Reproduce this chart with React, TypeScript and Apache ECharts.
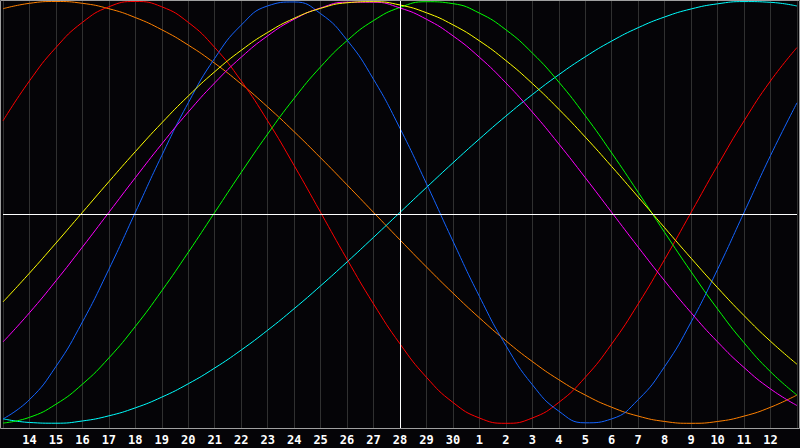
import React, { useEffect, useRef } from "react";
import * as echarts from "echarts";

const days = ["13","14","15","16","17","18","19","20","21","22","23","24","25","26","27","28","29","30","1","2","3","4","5","6","7","8","9","10","11","12","13"];

// 23-day cycle (blue)
const physical = [-0.9791,-0.8879,-0.7308,-0.5196,-0.2698,0,0.2698,0.5196,0.7308,0.8879,0.9791,0.9977,0.9423,0.8170,0.6311,0.3984,0.1362,-0.1362,-0.3984,-0.6311,-0.8170,-0.9423,-0.9977,-0.9791,-0.8879,-0.7308,-0.5196,-0.2698,0,0.2698,0.5196];
// 28-day cycle (red)
const emotional = [0.4339,0.6235,0.7818,0.9010,0.9749,1,0.9749,0.9010,0.7818,0.6235,0.4339,0.2225,0,-0.2225,-0.4339,-0.6235,-0.7818,-0.9010,-0.9749,-1,-0.9749,-0.9010,-0.7818,-0.6235,-0.4339,-0.2225,0,0.2225,0.4339,0.6235,0.7818];
// 33-day cycle (green)
const intellectual = [-0.9989,-0.9718,-0.9096,-0.8146,-0.6901,-0.5406,-0.3717,-0.1893,0,0.1893,0.3717,0.5406,0.6901,0.8146,0.9096,0.9718,0.9989,0.9898,0.9450,0.8660,0.7557,0.6182,0.4582,0.2817,0.0951,-0.0951,-0.2817,-0.4582,-0.6182,-0.7557,-0.8660];
// 38-day cycle (magenta)
const intuitive = [-0.6142,-0.4759,-0.3247,-0.1646,0,0.1646,0.3247,0.4759,0.6142,0.7357,0.8372,0.9158,0.9694,0.9966,0.9966,0.9694,0.9158,0.8372,0.7357,0.6142,0.4759,0.3247,0.1646,0,-0.1646,-0.3247,-0.4759,-0.6142,-0.7357,-0.8372,-0.9158];
// 43-day cycle (yellow)
const aesthetic = [-0.4245,-0.2881,-0.1456,0,0.1456,0.2881,0.4245,0.5517,0.6671,0.7685,0.8534,0.9203,0.9675,0.9940,0.9993,0.9834,0.9465,0.8894,0.8135,0.7200,0.6112,0.4894,0.3572,0.2174,0.0730,-0.0730,-0.2174,-0.3572,-0.4894,-0.6112,-0.7200];
// 48-day cycle (orange)
const awareness = [0.9659,0.9914,1,0.9914,0.9659,0.9239,0.8660,0.7934,0.7071,0.6088,0.5,0.3827,0.2588,0.1305,0,-0.1305,-0.2588,-0.3827,-0.5,-0.6088,-0.7071,-0.7934,-0.8660,-0.9239,-0.9659,-0.9914,-1,-0.9914,-0.9659,-0.9239,-0.8660];
// 53-day cycle (cyan)
const spiritual = [-0.9786,-0.9961,-0.9996,-0.9890,-0.9646,-0.9267,-0.8759,-0.8126,-0.7378,-0.6527,-0.5586,-0.4566,-0.3482,-0.2349,-0.1183,0,0.1183,0.2349,0.3482,0.4566,0.5586,0.6527,0.7378,0.8126,0.8759,0.9267,0.9646,0.9890,0.9996,0.9961,0.9786];

const todayIndex = 15;
const zeroLine = -0.0076;

const seriesDefs = [
  { name: "Awareness", data: awareness, color: "#ff8000" },
  { name: "Spiritual", data: spiritual, color: "#00ffff" },
  { name: "Emotional", data: emotional, color: "#ff0000" },
  { name: "Intellectual", data: intellectual, color: "#00ff00" },
  { name: "Physical", data: physical, color: "#1464ff" },
  { name: "Intuitive", data: intuitive, color: "#ff00ff" },
  { name: "Aesthetic", data: aesthetic, color: "#ffff00" },
];

export default function App() {
  const ref = useRef<HTMLDivElement>(null);
  useEffect(() => {
    if (!ref.current) return;
    const chart = echarts.init(ref.current, undefined, { renderer: "svg" });
    const series: any[] = seriesDefs.map((s) => ({
      name: s.name,
      type: "line",
      data: s.data,
      smooth: true,
      symbol: "none",
      lineStyle: { color: s.color, width: 1 },
      itemStyle: { color: s.color },
      z: 3,
    }));
    series.unshift({
      name: "axes",
      type: "line",
      data: [],
      z: 2,
      markLine: {
        silent: true,
        symbol: "none",
        label: { show: false },
        lineStyle: { color: "#ffffff", width: 1, type: "solid" },
        data: [{ xAxis: todayIndex }, { yAxis: zeroLine }],
      },
    });
    chart.setOption({
      animation: false,
      backgroundColor: "#050407",
      grid: { left: 0, top: 0, width: 800, height: 428, show: false },
      xAxis: {
        type: "category",
        data: days,
        boundaryGap: false,
        axisLine: { show: false },
        axisTick: { show: false },
        axisLabel: {
          interval: 0,
          color: "#ffffff",
          fontWeight: "bold",
          fontFamily: "DejaVu Sans Mono",
          fontSize: 12,
          margin: 6,
          formatter: (v: string, i: number) => (i === 0 || i === days.length - 1 ? "" : v),
        },
        splitLine: { show: true, interval: 0, lineStyle: { color: "#303030", width: 1 } },
      },
      yAxis: {
        type: "value",
        min: -1.0223,
        max: 1.0071,
        axisLine: { show: false },
        axisTick: { show: false },
        axisLabel: { show: false },
        splitLine: { show: false },
      },
      graphic: [
        {
          type: "rect",
          shape: { x: 0.5, y: 0.5, width: 799, height: 428 },
          style: { fill: "none", stroke: "#a0a0a0", lineWidth: 1 },
          silent: true,
          z: 100,
        },
      ],
      series,
    });
    return () => chart.dispose();
  }, []);
  return (
    <div
      ref={ref}
      style={{ position: "fixed", left: 0, top: 0, width: 800, height: 448, background: "#050407" }}
    />
  );
}
